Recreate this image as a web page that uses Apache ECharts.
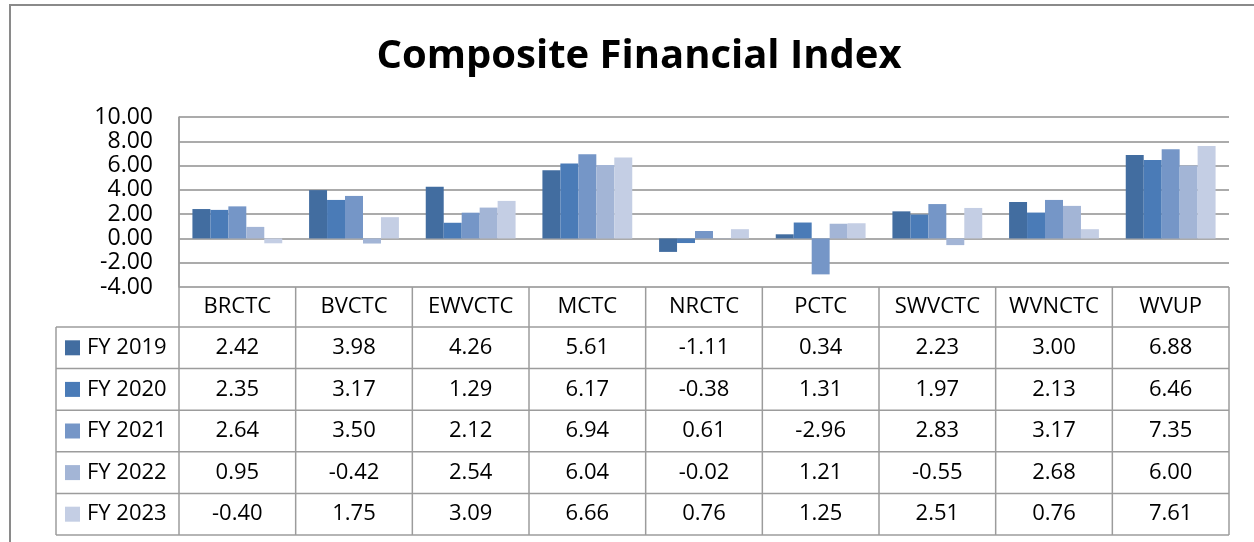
<!DOCTYPE html>
<html><head><meta charset="utf-8">
<script src="https://cdn.jsdelivr.net/npm/echarts@6/dist/echarts.min.js"></script>
<style>html,body{margin:0;padding:0;background:#fff}#c{width:1254px;height:542px}</style>
</head><body><div id="c"></div>
<script>
const titleText = 'Composite Financial Index';
const categories = ['BRCTC','BVCTC','EWVCTC','MCTC','NRCTC','PCTC','SWVCTC','WVNCTC','WVUP'];
const seriesNames = ['FY 2019','FY 2020','FY 2021','FY 2022','FY 2023'];
const fy2019 = [2.42, 3.98, 4.26, 5.61, -1.11, 0.34, 2.23, 3.00, 6.88];
const fy2020 = [2.35, 3.17, 1.29, 6.17, -0.38, 1.31, 1.97, 2.13, 6.46];
const fy2021 = [2.64, 3.50, 2.12, 6.94, 0.61, -2.96, 2.83, 3.17, 7.35];
const fy2022 = [0.95, -0.42, 2.54, 6.04, -0.02, 1.21, -0.55, 2.68, 6.00];
const fy2023 = [-0.40, 1.75, 3.09, 6.66, 0.76, 1.25, 2.51, 0.76, 7.61];
const yMin = -4, yMax = 10, yInterval = 2;

const seriesData = [fy2019, fy2020, fy2021, fy2022, fy2023];
const colors = ['#426DA0', '#4A7BB7', '#7596C7', '#A3B5D6', '#C4CEE4'];
const FONT = '"Open Sans", "DejaVu Sans", sans-serif';
const gridColor = '#8f8f8f';
const tableColor = '#9c9c9c';

const chart = echarts.init(document.getElementById('c'), null, {renderer: 'canvas'});
const option = {
  backgroundColor: '#ffffff',
  animation: false,
  title: {
    text: titleText, left: 634, top: 32, textAlign: 'center',
    textStyle: {fontFamily: FONT, fontWeight: 'bold', fontSize: 40, color: '#000'}
  },
  grid: {left: 179, right: 25, top: 117, bottom: 255, containLabel: false},
  xAxis: {
    type: 'category', data: categories,
    axisLine: {show: false, onZero: false},
    axisTick: {show: false},
    splitLine: {show: false},
    axisLabel: {show: true, fontFamily: FONT, fontSize: 22, color: '#000', margin: 20, verticalAlign: 'middle', interval: 0}
  },
  yAxis: {
    type: 'value', min: yMin, max: yMax, interval: yInterval,
    axisLine: {show: true, lineStyle: {color: tableColor, width: 1.5}},
    axisTick: {show: false},
    splitLine: {show: true, lineStyle: {color: gridColor, width: 1.5}},
    axisLabel: {fontFamily: FONT, fontSize: 23, color: '#000', margin: 26,
      formatter: v => v.toFixed(2)}
  },
  series: seriesData.map((d, i) => ({
    name: seriesNames[i], type: 'bar', data: d,
    barGap: '0%', barCategoryGap: '23%',
    itemStyle: {color: colors[i]}
  }))
};
chart.setOption(option);

// Build the data table from the arrays, using the chart's own scales
const c0 = chart.convertToPixel({xAxisIndex: 0}, 0);
const c1 = chart.convertToPixel({xAxisIndex: 0}, 1);
const bw = c1 - c0;
const yBottom = chart.convertToPixel({yAxisIndex: 0}, yMin);
const yTop = chart.convertToPixel({yAxisIndex: 0}, yMax);
const headerH = 40;
const rowH = 41.6;
const legendLeft = 56;
const gx0 = c0 - bw / 2;
const gx1 = gx0 + bw * categories.length;
const bodyTop = yBottom + headerH;
const tableBottom = bodyTop + rowH * seriesNames.length;
const ls = {stroke: tableColor, lineWidth: 1.5};
const g = [];
// outer frame
g.push({type: 'rect', shape: {x: 10, y: 5, width: 1270, height: 600}, style: {fill: 'none', stroke: '#8a8a8a', lineWidth: 2}, silent: true});
// vertical lines
for (let k = 0; k <= categories.length; k++) {
  const x = gx0 + bw * k;
  g.push({type: 'line', shape: {x1: x, y1: k === 0 ? yTop : yBottom, x2: x, y2: tableBottom}, style: ls});
}
g.push({type: 'line', shape: {x1: legendLeft, y1: bodyTop, x2: legendLeft, y2: tableBottom}, style: ls});
// horizontal lines
for (let r = 0; r <= seriesNames.length; r++) {
  const y = bodyTop + rowH * r;
  g.push({type: 'line', shape: {x1: legendLeft, y1: y, x2: gx1, y2: y}, style: ls});
}
// rows
seriesNames.forEach((name, r) => {
  const yc = bodyTop + rowH * (r + 0.5);
  g.push({type: 'rect', shape: {x: 65, y: yc - 7.5, width: 15, height: 15}, style: {fill: colors[r]}});
  g.push({type: 'text', x: 87, y: yc, style: {text: name, font: '22px ' + FONT, fill: '#000', textAlign: 'left', textVerticalAlign: 'middle'}});
  seriesData[r].forEach((v, k) => {
    g.push({type: 'text', x: gx0 + bw * (k + 0.5), y: yc, style: {text: v.toFixed(2), font: '22px ' + FONT, fill: '#000', textAlign: 'center', textVerticalAlign: 'middle'}});
  });
});
chart.setOption({graphic: {elements: g}});
</script>
</body></html>
